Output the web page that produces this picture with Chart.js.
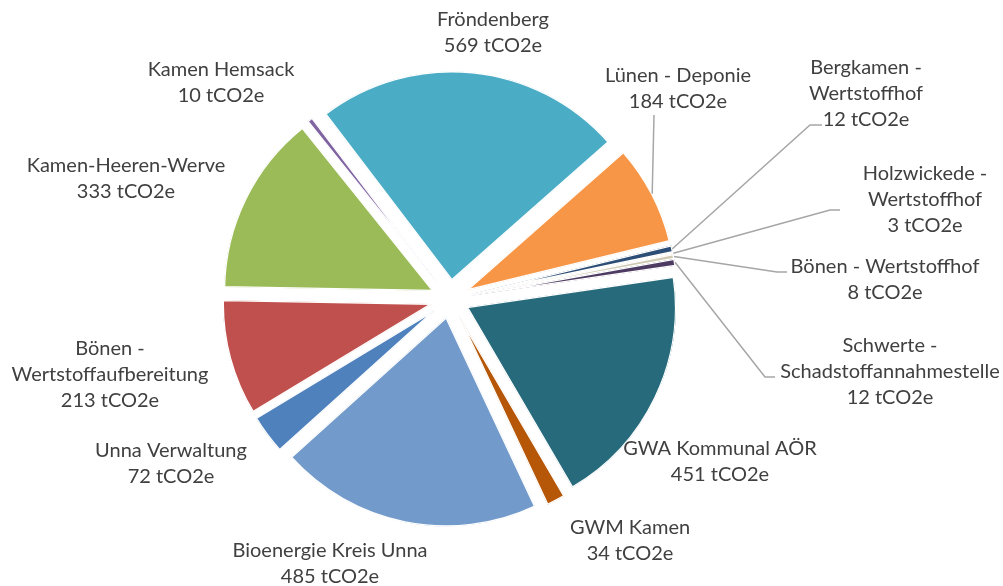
<!DOCTYPE html>
<html>
<head>
<meta charset="utf-8">
<script src="https://cdn.jsdelivr.net/npm/chart.js@4/dist/chart.umd.min.js"></script>
<style>
  html, body { margin: 0; padding: 0; background: #ffffff; }
  #wrap { width: 1003px; height: 586px; position: relative; }
</style>
</head>
<body>
<div id="wrap"><canvas id="c" width="1003" height="586"></canvas></div>
<script>
// ---- data ----
const categories = [
  'Unna Verwaltung',
  'Bönen - Wertstoffaufbereitung',
  'Kamen-Heeren-Werve',
  'Kamen Hemsack',
  'Fröndenberg',
  'Lünen - Deponie',
  'Bergkamen - Wertstoffhof',
  'Holzwickede - Wertstoffhof',
  'Bönen - Wertstoffhof',
  'Schwerte - Schadstoffannahmestelle',
  'GWA Kommunal AÖR',
  'GWM Kamen',
  'Bioenergie Kreis Unna'
];
const values = [72, 213, 333, 10, 569, 184, 12, 3, 8, 12, 451, 34, 485];
const unit = 'tCO2e';
// label line breaks as shown in the chart
const categoryLines = [
  ['Unna Verwaltung'],
  ['Bönen -', 'Wertstoffaufbereitung'],
  ['Kamen-Heeren-Werve'],
  ['Kamen Hemsack'],
  ['Fröndenberg'],
  ['Lünen - Deponie'],
  ['Bergkamen -', 'Wertstoffhof'],
  ['Holzwickede -', 'Wertstoffhof'],
  ['Bönen - Wertstoffhof'],
  ['Schwerte -', 'Schadstoffannahmestelle'],
  ['GWA Kommunal AÖR'],
  ['GWM Kamen'],
  ['Bioenergie Kreis Unna']
];
const colors = [
  '#4F81BD', '#C0504D', '#9BBB59', '#8064A2', '#4BACC6', '#F79646',
  '#2C4D75', '#DCD6C2', '#CFC9B2', '#4D3B62', '#276A7C', '#B65708', '#729ACA'
];

// ---- layout of labels (text centre x, first line centre y) ----
const labelPos = [
  [171, 451], [110, 349], [126, 166], [221, 70], [493, 20], [678, 76],
  [866, 68], [925, 174], [885, 267], [890, 346], [720, 449], [630, 528], [330, 551]
];
// leader lines: null = none, else list of points after the arc anchor
const leaders = [
  null, null, null, null, null,
  [[654, 115]],
  [[810, 125], [822, 125]],
  [[830, 210], [840, 210]],
  [[777, 272], [787, 272]],
  [[765, 377], [775, 377]],
  null, null, null
];
const EXPLODE = 19;
const LINE_H = 25.7;

const explodePlugin = {
  id: 'explode',
  beforeDatasetDraw(chart, args) {
    const ctx = chart.ctx;
    args.meta.data.forEach(arc => {
      const mid = (arc.startAngle + arc.endAngle) / 2;
      ctx.save();
      ctx.translate(Math.cos(mid) * EXPLODE, Math.sin(mid) * EXPLODE);
      arc.draw(ctx);
      ctx.restore();
    });
    return false;
  }
};

const labelPlugin = {
  id: 'labels',
  afterDraw(chart) {
    const ctx = chart.ctx;
    const meta = chart.getDatasetMeta(0);
    ctx.save();
    // leader lines
    ctx.strokeStyle = '#A6A6A6';
    ctx.lineWidth = 1.5;
    meta.data.forEach((arc, i) => {
      const pts = leaders[i];
      if (!pts) return;
      const mid = (arc.startAngle + arc.endAngle) / 2;
      const r = arc.outerRadius + EXPLODE;
      const ax = arc.x + Math.cos(mid) * r;
      const ay = arc.y + Math.sin(mid) * r;
      ctx.beginPath();
      ctx.moveTo(ax, ay);
      pts.forEach(p => ctx.lineTo(p[0], p[1]));
      ctx.stroke();
    });
    // texts
    ctx.fillStyle = '#404040';
    ctx.font = '20px Lato';
    ctx.textAlign = 'center';
    ctx.textBaseline = 'middle';
    categoryLines.forEach((lines, i) => {
      const all = lines.concat([values[i] + ' ' + unit]);
      const [x, y] = labelPos[i];
      all.forEach((t, k) => ctx.fillText(t, x, y + k * LINE_H));
    });
    ctx.restore();
  }
};

new Chart(document.getElementById('c'), {
  type: 'pie',
  data: {
    labels: categories,
    datasets: [{
      data: values,
      backgroundColor: colors,
      borderColor: '#ffffff',
      borderWidth: 1,
      borderAlign: 'inner',
      hoverOffset: 0
    }]
  },
  options: {
    responsive: false,
    animation: false,
    rotation: -132,
    radius: 209,
    layout: { padding: { left: 0, right: 103, top: 12, bottom: 0 } },
    plugins: { legend: { display: false }, tooltip: { enabled: false } }
  },
  plugins: [explodePlugin, labelPlugin]
});
</script>
</body>
</html>
